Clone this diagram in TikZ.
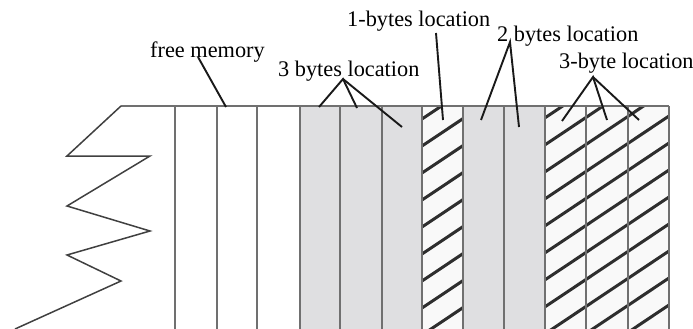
\documentclass[tikz,border=0pt]{standalone}
\usepackage{fontspec}
\setmainfont{Liberation Serif}
\usetikzlibrary{positioning}
\definecolor{cellgray}{RGB}{223,223,225}
\definecolor{wallgray}{RGB}{112,112,112}
\definecolor{hatchfill}{RGB}{249,249,249}

\begin{document}
\begin{tikzpicture}[x=1pt,y=-1pt,lbl/.style={inner sep=0pt,anchor=base west,
font=\fontsize{22.3}{26}\selectfont},lead/.style={draw=black!90,line width=1.9pt},
wall/.style={draw=wallgray,line width=1.6pt},hatch/.style={draw=black!82,line width=3pt}]
\useasboundingbox (0,0) rectangle (693,329);
% cells
\fill[cellgray] (300,106) rectangle (422,329);\fill[cellgray] (463,106) rectangle (545,329);
\fill[hatchfill] (422,106) rectangle (463,329);\fill[hatchfill] (545,106) rectangle (669,329);
\begin{scope}
\clip (422,106) rectangle (463,329) (545,106) rectangle (669,329);
\foreach \k in {3,...,18} \draw[hatch] (422,11+27*\k) -- ++(247,-165);
\end{scope}
\foreach \x in {175,217,257,300,340,382,422,463,504,545,586,628,669} \draw[wall] (\x,106) -- (\x,329);
\draw[wall] (121,106) -- (669,106);
\draw[draw=black!75,line width=1.5pt] (121,106) -- (67,156) -- (150,156) -- (67,206) -- (150,231)
  -- (67,255) -- (121,281) -- (15,329);
% labels
\node[lbl] (free) at (150,58) {free memory};
\node[lbl] (three) at (278,77) {3 bytes location};
\node[lbl] (one) at (347,27) {1-bytes location};
\node[lbl] (two) at (497,42) {2 bytes location};
\node[lbl] (threeb) at (559,68) {3-byte location};
\coordinate (free tip) at (198,57);\coordinate (free end) at (226,107);
\coordinate (three tip) at (343,79);\coordinate (three a) at (319,107);
\coordinate (three b) at (357,108);\coordinate (three c) at (402,127);
\coordinate (one tip) at (436,33);\coordinate (one end) at (443,120);
\coordinate (two tip) at (510,42);\coordinate (two a) at (481,120);\coordinate (two b) at (519,127);
\coordinate (threeb tip) at (593,77);\coordinate (threeb a) at (562,121);
\coordinate (threeb b) at (607,120);\coordinate (threeb c) at (639,120);
% leaders
\draw[lead] (free tip)--(free end);
\draw[lead] (three a)--(three tip)--(three b);\draw[lead] (three tip)--(three c);
\draw[lead] (one tip)--(one end);
\draw[lead] (two a)--(two tip)--(two b);
\draw[lead] (threeb a)--(threeb tip)--(threeb b);\draw[lead] (threeb tip)--(threeb c);
\end{tikzpicture}
\end{document}
